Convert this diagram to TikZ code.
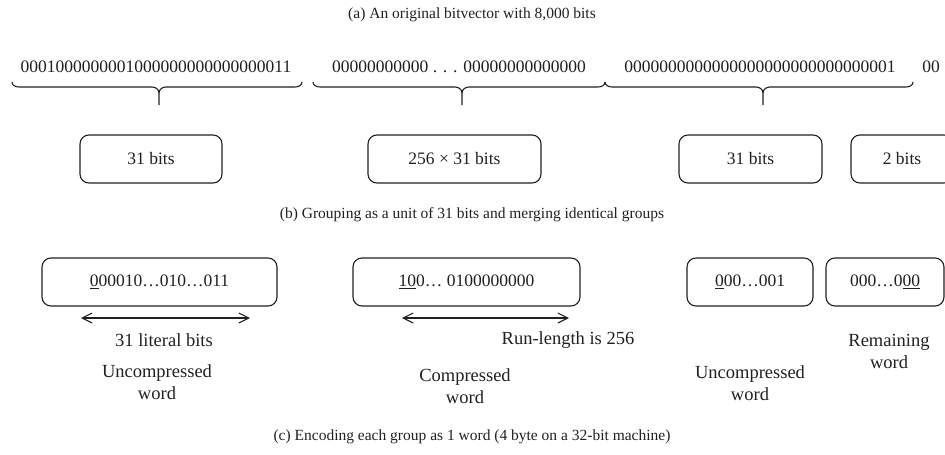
\documentclass[tikz,border=0pt]{standalone}
\usepackage{fontspec}
\setmainfont{Liberation Serif}
\usetikzlibrary{arrows.meta}
\definecolor{ink}{HTML}{231F20}
\newcommand\drawbrace[3]{%
  \draw[braceline] (#1,82) to[out=-90,in=180] (#1+7,87) -- (#3-7,87)
     to[out=0,in=90] (#3,93) -- (#3,105);
  \draw[braceline] (#3,93) to[out=90,in=180] (#3+7,87) -- (#2-7,87)
     to[out=0,in=-90] (#2,82);}
\begin{document}
\begin{tikzpicture}[x=1pt,y=-1pt,
  every node/.style={text=ink},
  bitstr/.style={font=\fontsize{17.5}{21}\selectfont},
  captxt/.style={font=\fontsize{15.5}{18}\selectfont},
  lbl/.style={font=\fontsize{18.5}{22}\selectfont, align=center},
  wbox/.style={draw=ink, line width=1.1pt, rounded corners=9pt, minimum height=48pt,
     inner sep=0pt, font=\fontsize{17.5}{21}\selectfont},
  braceline/.style={draw=ink, line width=1.1pt},
  spanarrow/.style={draw=ink, line width=1.1pt, {Straight Barb[length=10pt,width=10pt]}-{Straight Barb[length=10pt,width=10pt]}}]
\useasboundingbox (0,0) rectangle (945,455);
\clip (0,0) rectangle (945,455);
% (a)
\node[captxt] (capa) at (472,15) {(a) An original bitvector with 8,000 bits};
\node[bitstr] (s1) at (156,67) {0001000000001000000000000000011};
\node[bitstr] (s2) at (459,67) {00000000000 . . . 00000000000000};
\node[bitstr] (s3) at (760,67) {0000000000000000000000000000001};
\node[bitstr] (s4) at (931,67) {00};
\drawbrace{12}{302}{159}
\drawbrace{313}{605}{462}
\drawbrace{605}{913}{763}
% (b)
\node[wbox, minimum width=142pt] (b1) at (151,159) {31 bits};
\node[wbox, minimum width=173pt] (b2) at (454.5,159) {256 × 31 bits};
\node[wbox, minimum width=143pt] (b3) at (750.5,159) {31 bits};
\node[wbox, minimum width=102pt] (b4) at (902,159) {2 bits};
\node[captxt] (capb) at (472,215) {(b) Grouping as a unit of 31 bits and merging identical groups};
% (c)
\node[wbox, minimum width=235pt] (c1) at (159.5,282) {\underline{0}00010…010…011};
\node[wbox, minimum width=227pt] (c2) at (466.5,282) {\underline{10}0… 0100000000};
\node[wbox, minimum width=126pt] (c3) at (750,282) {\underline{0}00…001};
\node[wbox, minimum width=118pt] (c4) at (885,282) {000…0\underline{00}};
\coordinate (a1l) at (81,318);
\coordinate (a1r) at (250,318);
\coordinate (a2l) at (402,318);
\coordinate (a2r) at (569,318);
\draw[spanarrow] (a1l) -- (a1r);
\draw[spanarrow] (a2l) -- (a2r);
\node[lbl] (l1) at (164,340) {31 literal bits};
\node[lbl] (l2) at (568,340) {Run-length is 256};
\node[lbl] (w1) at (157,382) {Uncompressed\\word};
\node[lbl] (w2) at (465,386) {Compressed\\word};
\node[lbl] (w3) at (750,383) {Uncompressed\\word};
\node[lbl] (w4) at (889,351) {Remaining\\word};
\node[captxt] (capc) at (472,437) {(c) Encoding each group as 1 word (4 byte on a 32-bit machine)};
\end{tikzpicture}
\end{document}
